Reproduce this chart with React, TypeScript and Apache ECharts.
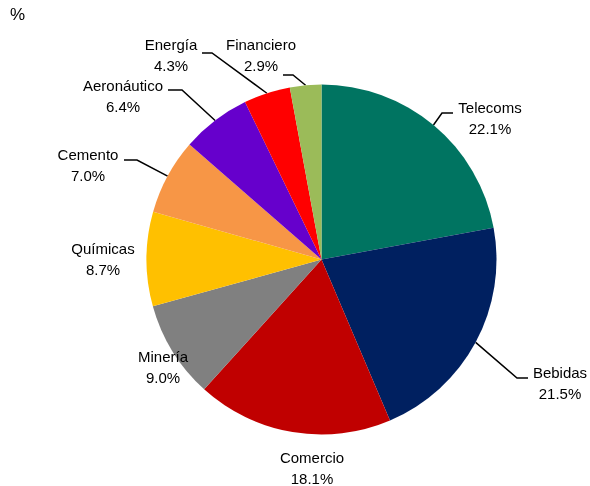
import React, { useEffect, useRef } from "react";
import * as echarts from "echarts";

const categories = ["Telecoms", "Bebidas", "Comercio", "Minería", "Químicas", "Cemento", "Aeronáutico", "Energía", "Financiero"];
const values = [22.1, 21.5, 18.1, 9.0, 8.7, 7.0, 6.4, 4.3, 2.9];
const sliceColors = ["#007461", "#002060", "#C00000", "#808080", "#FFC000", "#F79646", "#6600CC", "#FF0000", "#9BBB59"];
const unitLabel = "%";

// label centres and leader-line elbows (layout only)
const labelSpec: { x: number; y: number; line: number[][] | null }[] = [
  { x: 490, y: 118, line: [[442, 113], [453, 113]] },
  { x: 560, y: 383, line: [[517, 378], [528, 378]] },
  { x: 312, y: 468, line: null },
  { x: 163, y: 367, line: null },
  { x: 103, y: 259, line: null },
  { x: 88, y: 165, line: [[137, 160], [124, 160]] },
  { x: 123, y: 96, line: [[182, 90], [168, 90]] },
  { x: 171, y: 55, line: [[212, 53], [202, 53]] },
  { x: 261, y: 55, line: [[293, 75], [283, 75]] },
];

const FONT = "'Liberation Sans', Arial, sans-serif";

export default function App() {
  const ref = useRef<HTMLDivElement>(null);
  useEffect(() => {
    if (!ref.current) return;
    const chart = echarts.init(ref.current, null, { renderer: "svg" });
    const data = categories.map((name, i) => ({
      name,
      value: values[i],
      itemStyle: { color: sliceColors[i] },
      labelLine: { show: !!labelSpec[i].line },
    }));
    chart.setOption({
      animation: false,
      graphic: [
        {
          type: "text",
          left: 10,
          top: 6,
          style: { text: unitLabel, fontSize: 17, fontFamily: FONT, fill: "#000" },
        },
      ],
      series: [
        {
          type: "pie",
          center: [321.5, 259.5],
          radius: [0, 175],
          startAngle: 90,
          clockwise: true,
          silent: true,
          emphasis: { disabled: true },
          data,
          label: {
            show: true,
            position: "outside",
            color: "#000",
            fontSize: 15,
            lineHeight: 21,
            fontFamily: FONT,
            align: "center",
            formatter: (p: any) => `${p.name}\n${Number(p.value).toFixed(1)}%`,
          },
          labelLine: {
            show: true,
            length: 10,
            length2: 10,
            lineStyle: { color: "#000", width: 1.5 },
          },
          labelLayout: (params: any) => {
            const s = labelSpec[params.dataIndex];
            const res: any = { x: s.x, y: s.y, align: "center", verticalAlign: "middle" };
            if (s.line && params.labelLinePoints) {
              res.labelLinePoints = [params.labelLinePoints[0], s.line[0], s.line[1]];
            }
            return res;
          },
        },
      ],
    });
    return () => chart.dispose();
  }, []);
  return <div ref={ref} style={{ position: "fixed", left: 0, top: 0, width: 590, height: 486 }} />;
}
